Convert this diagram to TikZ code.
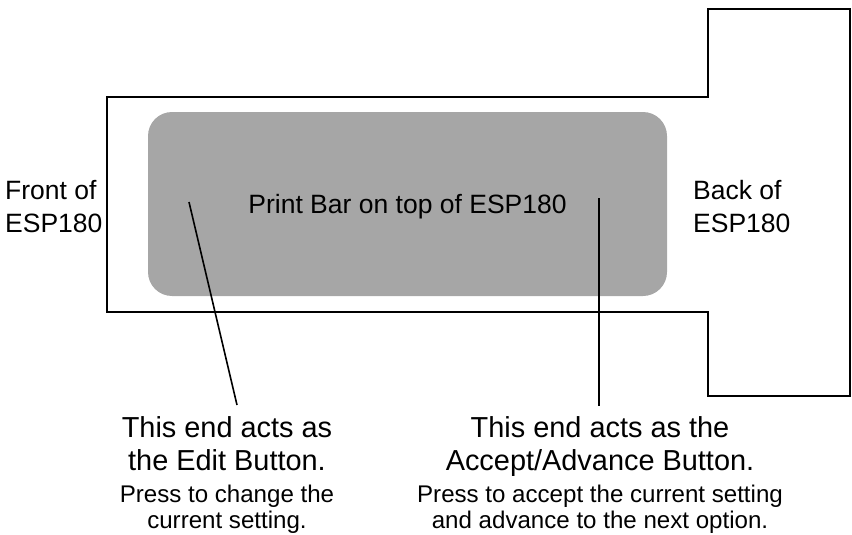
\documentclass[tikz,border=0pt]{standalone}
\usepackage{fontspec}
\setmainfont{Liberation Sans}
\definecolor{bargray}{RGB}{166,166,166}
\tikzset{
  outline/.style={draw=black, line width=1.8pt, line join=miter},
  barbox/.style={fill=bargray, draw=none, rounded corners=24pt},
  pointer/.style={draw=black, line width=1.6pt},
  sidelabel/.style={align=left, inner sep=0pt, font=\fontsize{26.5}{33}\selectfont},
  barlabel/.style={inner sep=0pt, font=\fontsize{26.5}{32}\selectfont},
  btnlabel/.style={align=center, inner sep=0pt, font=\fontsize{28.9}{33}\selectfont},
}
\newcommand{\smalltxt}{\fontsize{24.1}{33}\selectfont}
\begin{document}
\begin{tikzpicture}[x=1pt,y=-1pt]
\useasboundingbox (0,0) rectangle (852,535);
% device outline
\draw[outline] (107,97) -- (708,97) -- (708,9) -- (850,9) -- (850,396) -- (708,396) -- (708,312) -- (107,312) -- cycle;
% print bar
\path[barbox] (148,112) rectangle (667,296);
\node[barlabel, anchor=base] (bar) at (407.5,213) {Print Bar on top of ESP180};
% side labels
\node[sidelabel, anchor=base west] (front) at (5,232) {Front of\\ESP180};
\node[sidelabel, anchor=base west] (back) at (693,232) {Back of\\ESP180};
% button labels
\node[btnlabel, anchor=base] (edit) at (227,528) {This end acts as\\the Edit Button.\\[-1pt]\smalltxt Press to change the\\[-7pt]\smalltxt current setting.};
\node[btnlabel, anchor=base] (accept) at (600,528) {This end acts as the\\Accept/Advance Button.\\[-1pt]\smalltxt Press to accept the current setting\\[-7pt]\smalltxt and advance to the next option.};
% pointer ends
\coordinate (e1) at (189,202);
\coordinate (e2) at (237,405);
\coordinate (a1) at (599,198);
\coordinate (a2) at (599,406);
\draw[pointer] (e1) -- (e2);
\draw[pointer] (a1) -- (a2);
\end{tikzpicture}
\end{document}
